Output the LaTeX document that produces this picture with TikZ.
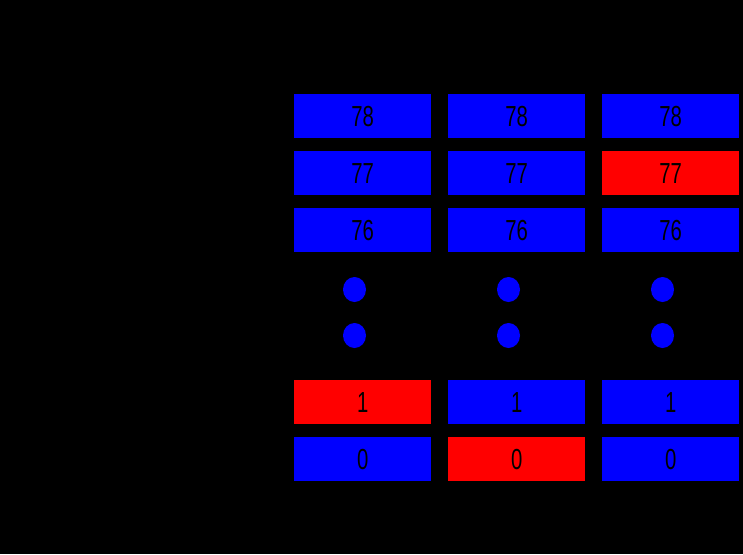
\documentclass[tikz,border=0pt]{standalone}
\usepackage{fontspec}
\setmainfont{Liberation Sans}[FakeStretch=0.7]
\begin{document}
\begin{tikzpicture}[x=1pt,y=-1pt,
  cell/.style={draw=none,minimum width=137pt,minimum height=44pt,inner sep=0pt,anchor=north west,font=\fontsize{29}{29}\selectfont,text=black},
  bluecell/.style={cell,fill=blue},
  redcell/.style={cell,fill=red},
  lbl/.style={inner sep=0pt,font=\fontsize{29}{29}\selectfont,text=black},
  dotmark/.style={ellipse,fill=blue,draw=none,minimum width=23pt,minimum height=25pt,inner sep=0pt}]
\fill[black] (0,0) rectangle (743,554);
\useasboundingbox (0,0) rectangle (743,554);
% row 78
\node[bluecell] (a78) at (294,94) {78};
\node[bluecell] (b78) at (448,94) {78};
\node[bluecell] (c78) at (602,94) {78};
% row 77
\node[bluecell] (a77) at (294,151) {77};
\node[bluecell] (b77) at (448,151) {77};
\node[redcell] (c77) at (602,151) {77};
% row 76
\node[bluecell] (a76) at (294,208) {76};
\node[bluecell] (b76) at (448,208) {76};
\node[bluecell] (c76) at (602,208) {76};
% row 1
\node[redcell] (a1) at (294,380) {1};
\node[bluecell] (b1) at (448,380) {1};
\node[bluecell] (c1) at (602,380) {1};
% row 0
\node[bluecell] (a0) at (294,437) {0};
\node[redcell] (b0) at (448,437) {0};
\node[bluecell] (c0) at (602,437) {0};
% dots
\fill[blue] (354.5,289.5) ellipse (11.5 and 12.5);
\fill[blue] (354.5,335.5) ellipse (11.5 and 12.5);
\fill[blue] (508.5,289.5) ellipse (11.5 and 12.5);
\fill[blue] (508.5,335.5) ellipse (11.5 and 12.5);
\fill[blue] (662.5,289.5) ellipse (11.5 and 12.5);
\fill[blue] (662.5,335.5) ellipse (11.5 and 12.5);
% labels
\node[lbl,anchor=center] (f) at (219,23) {f};
\node[lbl,anchor=west] (top) at (28,70) {2.4835 GHz};
\node[lbl,anchor=east] (mhz) at (250,125) {1MHz};
\node[lbl,anchor=west] (n) at (118,331) {N=0,...,78};
\node[lbl,anchor=west] (bot) at (28,464) {2.4000 GHz};
\node[lbl,anchor=center] (t) at (709,529) {t};
\end{tikzpicture}
\end{document}
